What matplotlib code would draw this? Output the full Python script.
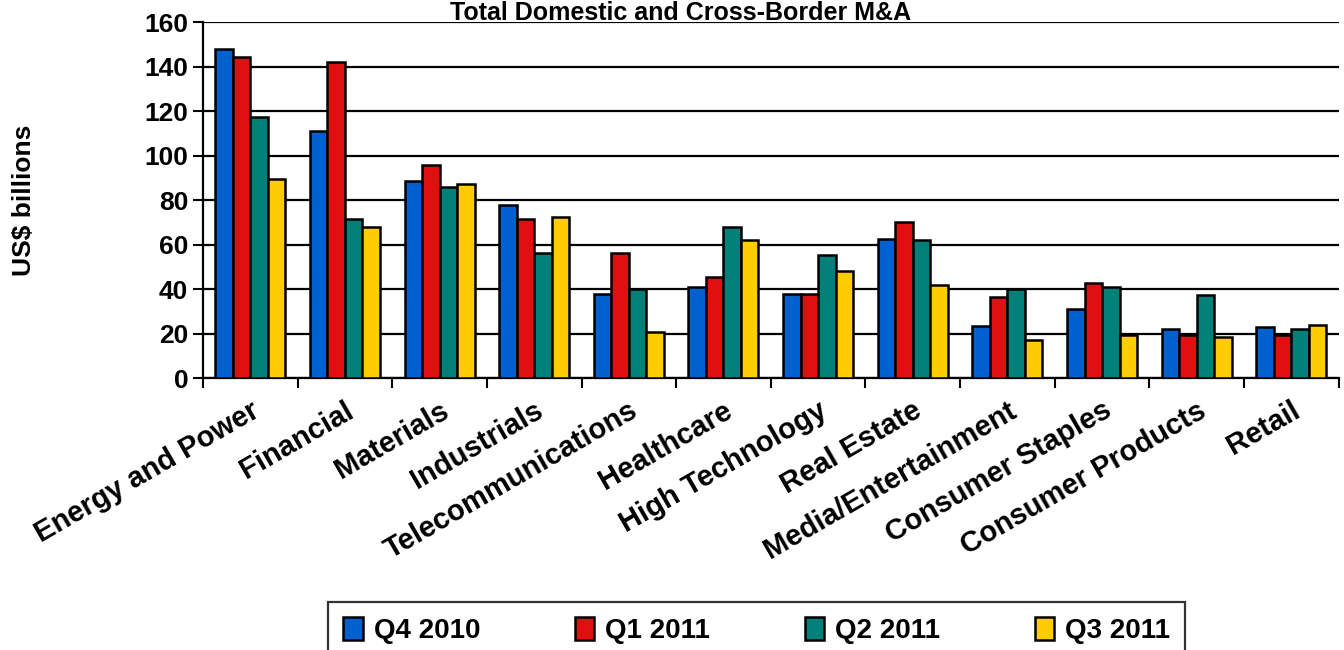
import numpy as np
import matplotlib.pyplot as plt
from matplotlib.ticker import MultipleLocator, FixedLocator

plt.rcParams['font.family'] = ['Liberation Sans', 'DejaVu Sans']
plt.rcParams['font.weight'] = 'bold'

categories = ['Energy and Power', 'Financial', 'Materials', 'Industrials',
              'Telecommunications', 'Healthcare', 'High Technology', 'Real Estate',
              'Media/Entertainment', 'Consumer Staples', 'Consumer Products', 'Retail']
q4_2010 = [148, 111, 88.5, 78, 38, 41, 38, 62.5, 23.5, 31, 22, 23]
q1_2011 = [144.5, 142, 96, 71.5, 56.5, 45.5, 38, 70, 36.5, 43, 19.5, 19.5]
q2_2011 = [117.5, 71.5, 86, 56.5, 40, 68, 55.5, 62, 40, 41, 37.5, 22]
q3_2011 = [89.5, 68, 87.5, 72.5, 21, 62, 48, 42, 17, 19.5, 18.5, 24]

series = [('Q4 2010', q4_2010, '#0060d0'),
          ('Q1 2011', q1_2011, '#e01010'),
          ('Q2 2011', q2_2011, '#008078'),
          ('Q3 2011', q3_2011, '#ffcc00')]

fig = plt.figure(figsize=(13.44, 6.5), dpi=100)
ax = fig.add_axes([0.151, 0.418, 0.845, 0.548])

x = np.arange(len(categories))
w = 0.185
for i, (name, vals, col) in enumerate(series):
    ax.bar(x + (i - 1.5) * w, vals, w, color=col, edgecolor='black',
           linewidth=1.8, label=name, zorder=3)

ax.set_xlim(-0.5, len(categories) - 0.5)
ax.set_ylim(0, 160)
ax.yaxis.set_major_locator(MultipleLocator(20))
ax.grid(axis='y', color='black', linewidth=1.6, zorder=0)
ax.set_axisbelow(True)

# category labels, slanted, with ticks between groups
ax.set_xticks(x)
ax.set_xticklabels(categories, rotation=30, ha='right', rotation_mode='anchor',
                   fontsize=21, fontweight='bold')
ax.tick_params(axis='x', length=0, pad=13)
ax.xaxis.set_minor_locator(FixedLocator(np.arange(-0.5, len(categories), 1)))
ax.tick_params(axis='x', which='minor', length=7, width=1.5, direction='out')
ax.tick_params(axis='y', labelsize=19, length=7, width=1.5, direction='out')
for lab in ax.get_yticklabels():
    lab.set_fontweight('bold')

for s in ['top', 'right']:
    ax.spines[s].set_visible(False)
for s in ['left', 'bottom']:
    ax.spines[s].set_linewidth(1.6)

ax.set_ylabel('US$ billions', fontsize=19, fontweight='bold', labelpad=78)
fig.text(0.506, 0.999, 'Total Domestic and Cross-Border M&A', fontsize=18,
         fontweight='bold', ha='center', va='top')

leg = fig.legend(loc='lower center', bbox_to_anchor=(0.563, -0.036), ncol=4,
                 fontsize=20, frameon=True, fancybox=False, edgecolor='black',
                 handlelength=0.7, handleheight=0.9, columnspacing=3.4,
                 borderpad=0.55, handletextpad=0.4, borderaxespad=0.5)
leg.get_frame().set_linewidth(1.6)

fig.savefig('out.png', dpi=100)
